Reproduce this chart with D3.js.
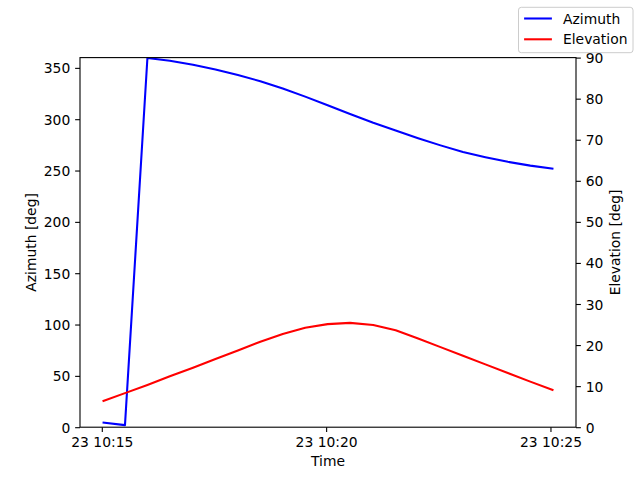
<!DOCTYPE html>
<html>
<head>
<meta charset="utf-8">
<script src="https://cdn.jsdelivr.net/npm/d3@7"></script>
<style>
  body { margin: 0; background: #fff; }
  svg { display: block; font-family: "DejaVu Sans", sans-serif; }
</style>
</head>
<body>
<script>
var width = 640;
var height = 480;
var margin = {top: 57.6, right: 64, bottom: 52.8, left: 80};

// sample times (day 23)
var day = "2024-01-23";
var times = ["10:15:01", "10:15:31", "10:16:01", "10:16:31", "10:17:02", "10:17:32",
  "10:18:02", "10:18:32", "10:19:02", "10:19:32", "10:20:02", "10:20:32",
  "10:21:03", "10:21:33", "10:22:03", "10:22:33", "10:23:03", "10:23:33",
  "10:24:03", "10:24:33", "10:25:04"];

var azimuth = [4.6, 2.0, 359.6, 357.0, 353.0, 348.5, 343.0, 337.0, 330.0, 322.0,
  313.5, 305.0, 296.5, 289.0, 281.5, 274.5, 268.0, 263.0, 258.5, 254.8, 251.7];

var elevation = [6.3, 8.3, 10.3, 12.4, 14.5, 16.6, 18.7, 20.8, 22.7, 24.2,
  25.1, 25.4, 24.9, 23.6, 21.6, 19.5, 17.4, 15.3, 13.2, 11.1, 9.0];

var azTicks = [0, 50, 100, 150, 200, 250, 300, 350];
var elTicks = [0, 10, 20, 30, 40, 50, 60, 70, 80, 90];
var seriesNames = ["Azimuth", "Elevation"];
var seriesColors = ["#0000ff", "#ff0000"];

var parseTime = d3.utcParse("%Y-%m-%d %H:%M:%S");
var dates = times.map(function(t) { return parseTime(day + " " + t); });

var plotW = width - margin.left - margin.right;
var plotH = height - margin.top - margin.bottom;

var svg = d3.select("body")
  .append("svg")
  .attr("width", width)
  .attr("height", height);

// matplotlib-style 5% padding on the time axis
var ext = d3.extent(dates);
var pad = (ext[1] - ext[0]) * 0.05;
var x = d3.scaleUtc()
  .domain([new Date(+ext[0] - pad), new Date(+ext[1] + pad)])
  .range([margin.left, margin.left + plotW]);

var yAz = d3.scaleLinear().domain([0, 360]).range([margin.top + plotH, margin.top]);
var yEl = d3.scaleLinear().domain([0, 90]).range([margin.top + plotH, margin.top]);

var fs = 13.89;
var tickLen = 4.86;

var lineAz = d3.line()
  .x(function(d, i) { return x(dates[i]); })
  .y(function(d) { return yAz(d); });

var lineEl = d3.line()
  .x(function(d, i) { return x(dates[i]); })
  .y(function(d) { return yEl(d); });

var clip = svg.append("clipPath").attr("id", "clip")
  .append("rect")
  .attr("x", margin.left).attr("y", margin.top)
  .attr("width", plotW).attr("height", plotH);

svg.append("path")
  .datum(azimuth)
  .attr("clip-path", "url(#clip)")
  .attr("d", lineAz)
  .style("fill", "none")
  .style("stroke", seriesColors[0])
  .style("stroke-width", 2.08)
  .style("stroke-linejoin", "round");

svg.append("path")
  .datum(elevation)
  .attr("clip-path", "url(#clip)")
  .attr("d", lineEl)
  .style("fill", "none")
  .style("stroke", seriesColors[1])
  .style("stroke-width", 2.08)
  .style("stroke-linejoin", "round");

// axes
var xAxis = svg.append("g")
  .attr("transform", "translate(0," + (margin.top + plotH) + ")")
  .call(d3.axisBottom(x)
    .ticks(d3.utcMinute.every(5))
    .tickFormat(d3.utcFormat("%d %H:%M"))
    .tickSizeInner(tickLen).tickSizeOuter(0).tickPadding(4.86));

var leftAxis = svg.append("g")
  .attr("transform", "translate(" + margin.left + ",0)")
  .call(d3.axisLeft(yAz).tickValues(azTicks)
    .tickSizeInner(tickLen).tickSizeOuter(0).tickPadding(4.86));

var rightAxis = svg.append("g")
  .attr("transform", "translate(" + (margin.left + plotW) + ",0)")
  .call(d3.axisRight(yEl).tickValues(elTicks)
    .tickSizeInner(tickLen).tickSizeOuter(0).tickPadding(4.86));

[xAxis, leftAxis, rightAxis].forEach(function(g) {
  g.select(".domain").remove();
  g.selectAll("line").style("stroke", "#000").style("stroke-width", 1.1);
  g.selectAll("text")
    .style("font-family", "DejaVu Sans")
    .style("font-size", fs + "px")
    .style("fill", "#000");
});
xAxis.selectAll("text").attr("dy", "0.73em");
leftAxis.selectAll("text").attr("dy", "0.36em");
rightAxis.selectAll("text").attr("dy", "0.36em");

// frame
svg.append("rect")
  .attr("x", margin.left).attr("y", margin.top)
  .attr("width", plotW).attr("height", plotH)
  .style("fill", "none")
  .style("stroke", "#000")
  .style("stroke-width", 1.1);

// axis labels
svg.append("text")
  .attr("x", margin.left + plotW / 2)
  .attr("y", 466)
  .style("text-anchor", "middle")
  .style("font-size", fs + "px")
  .text("Time");

svg.append("text")
  .attr("transform", "translate(31," + (margin.top + plotH / 2) + ") rotate(-90)")
  .attr("dy", "0.36em")
  .style("text-anchor", "middle")
  .style("font-size", fs + "px")
  .text("Azimuth [deg]");

svg.append("text")
  .attr("transform", "translate(615," + (margin.top + plotH / 2) + ") rotate(-90)")
  .attr("dy", "0.36em")
  .style("text-anchor", "middle")
  .style("font-size", fs + "px")
  .text("Elevation [deg]");

// figure legend, upper right
var legend = svg.append("g");
legend.append("rect")
  .attr("x", 518.5).attr("y", 7.3)
  .attr("width", 114.5).attr("height", 45.4)
  .attr("rx", 2.8)
  .style("fill", "#fff")
  .style("fill-opacity", 0.8)
  .style("stroke", "#cccccc")
  .style("stroke-width", 1);

var items = legend.selectAll("g.item")
  .data(seriesNames)
  .enter().append("g")
  .attr("class", "item")
  .attr("transform", function(d, i) { return "translate(0," + (18.5 + i * 20.8) + ")"; });

items.append("line")
  .attr("x1", 524.1).attr("x2", 551.9)
  .style("stroke", function(d, i) { return seriesColors[i]; })
  .style("stroke-width", 2.08);

items.append("text")
  .attr("x", 563)
  .attr("dy", "0.36em")
  .style("font-size", fs + "px")
  .text(function(d) { return d; });
</script>
</body>
</html>
